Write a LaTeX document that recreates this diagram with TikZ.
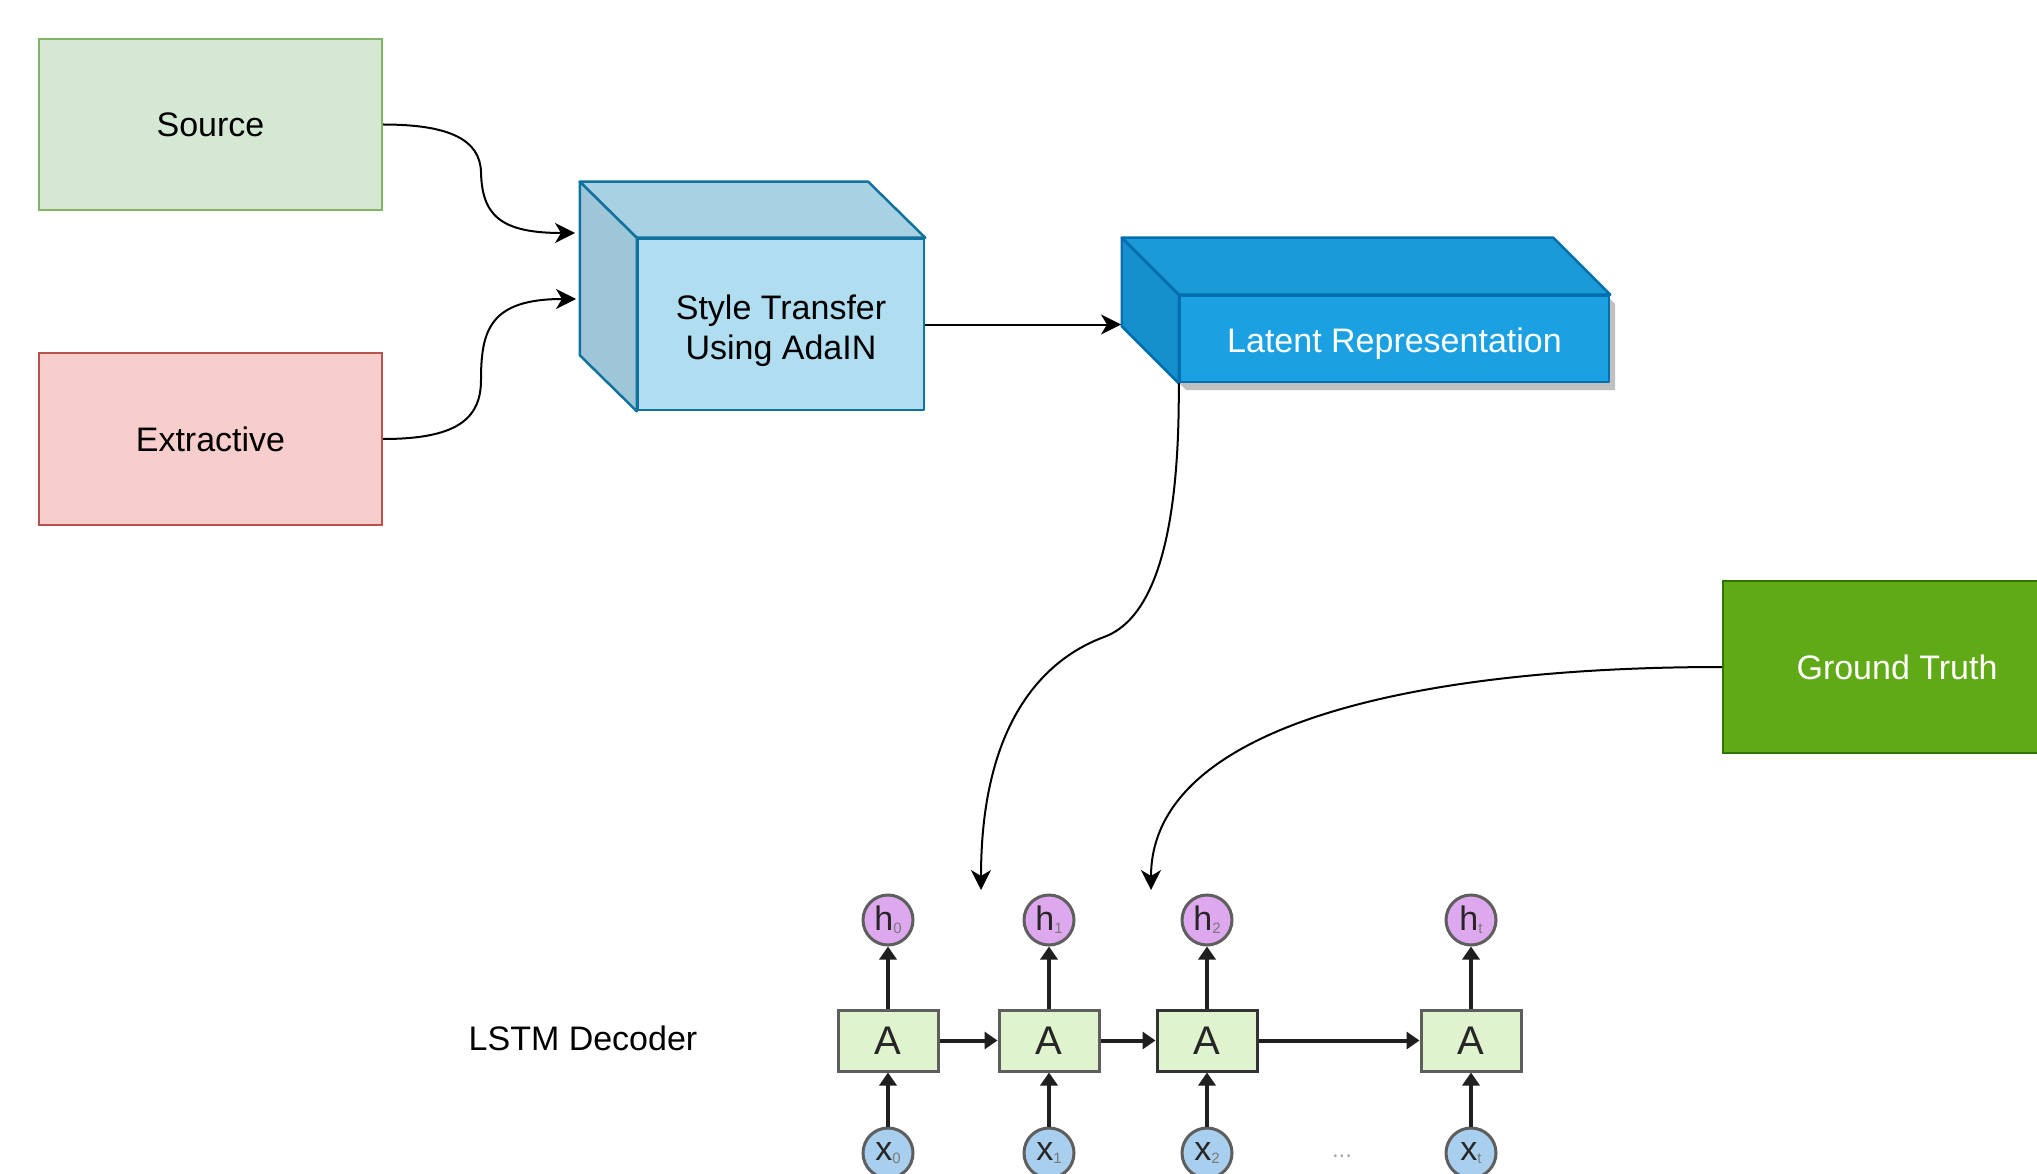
\documentclass[tikz,border=0pt]{standalone}
\usepackage{fontspec}
\setmainfont{Liberation Sans}
\usetikzlibrary{arrows.meta,calc}
\definecolor{srcfill}{HTML}{D5E8D4}\definecolor{srcline}{HTML}{82B366}
\definecolor{extfill}{HTML}{F8CECC}\definecolor{extline}{HTML}{B85450}
\definecolor{stfront}{HTML}{B1DDF0}\definecolor{sttop}{HTML}{A8D1E4}\definecolor{stside}{HTML}{9FC6D8}\definecolor{stline}{HTML}{10739E}
\definecolor{latfront}{HTML}{1BA1E2}\definecolor{lattop}{HTML}{1A9AD7}\definecolor{latside}{HTML}{1690CD}\definecolor{latline}{HTML}{006EAF}
\definecolor{gtfill}{HTML}{60A917}\definecolor{gtline}{HTML}{2D7600}
\definecolor{cellfill}{HTML}{DFF3CE}\definecolor{cellline}{HTML}{5E5E5E}
\definecolor{hfill}{HTML}{DDA8EE}\definecolor{xfill}{HTML}{A9CFEE}
\definecolor{subgray}{HTML}{7A7A7A}\definecolor{shadowgray}{HTML}{C0C0C0}
\newcommand\lsub[1]{\raisebox{-3pt}{\fontsize{15}{15}\selectfont\color{subgray}#1}}
\begin{document}
\begin{tikzpicture}[x=1pt,y=-1pt,
  txt/.style={font=\fontsize{34}{40}\selectfont, align=center},
  flatbox/.style={txt, rectangle, line width=2pt, inner sep=0pt},
  cubefront/.style={txt, rectangle, line width=2.5pt, inner sep=0pt, line join=round},
  cubeface/.style={line width=2.5pt, line join=round},
  conn/.style={line width=2pt, -{Stealth[length=20pt,width=20pt,inset=6pt]}},
  cell/.style={rectangle, fill=cellfill, draw=cellline, line width=3pt, minimum width=100pt, minimum height=61pt, inner sep=0pt, font=\fontsize{40}{40}\selectfont, text=black!85},
  hcirc/.style={circle, fill=hfill, draw=cellline, line width=3pt, minimum size=50pt, inner sep=0pt, font=\fontsize{34}{34}\selectfont, text=black!85},
  xcirc/.style={circle, fill=xfill, draw=cellline, line width=3pt, minimum size=50pt, inner sep=0pt, font=\fontsize{34}{34}\selectfont, text=black!85},
  larr/.style={line width=4pt, draw=black!88, -{Triangle[length=13pt,width=17pt]}}
]
\clip (0,0) rectangle (2037,1174);
\fill[white] (0,0) rectangle (2037,1174);

% input boxes
\node[flatbox, fill=srcfill, draw=srcline, minimum width=343pt, minimum height=171pt] (src) at (210.5,124.5) {Source};
\node[flatbox, fill=extfill, draw=extline, minimum width=343pt, minimum height=172pt] (ext) at (210.5,439) {Extractive};

% style transfer cube
\node[cubefront, fill=stfront, draw=stline, minimum width=286pt, minimum height=171pt] (st) at (781,324.5) {\rule{0pt}{37pt}Style Transfer\\Using AdaIN};
\filldraw[cubeface, fill=sttop, draw=stline] ($(st.north west)+(-57,-56)$) -- ($(st.north east)+(-57,-56)$) -- (st.north east) -- (st.north west) -- cycle;
\filldraw[cubeface, fill=stside, draw=stline] ($(st.north west)+(-57,-56)$) -- (st.north west) -- (st.south west) -- ($(st.south west)+(-57,-56)$) -- cycle;

% latent cube
\fill[shadowgray] (1129,247) -- (1558,247) -- (1615,304) -- (1615,390) -- (1186,390) -- (1129,333) -- cycle;
\node[cubefront, fill=latfront, draw=latline, text=white, minimum width=429pt, minimum height=86pt] (lat) at (1394.5,339) {\rule{0pt}{35pt}Latent Representation};
\filldraw[cubeface, fill=lattop, draw=latline] ($(lat.north west)+(-57,-57)$) -- ($(lat.north east)+(-57,-57)$) -- (lat.north east) -- (lat.north west) -- cycle;
\filldraw[cubeface, fill=latside, draw=latline] ($(lat.north west)+(-57,-57)$) -- (lat.north west) -- (lat.south west) -- ($(lat.south west)+(-57,-57)$) -- cycle;

% ground truth
\node[flatbox, fill=gtfill, draw=gtline, text=white, minimum width=348pt, minimum height=172pt] (gt) at (1897,667) {Ground Truth};

% connector end points
\coordinate (srcin) at (575,233);
\coordinate (extin) at (576,299);
\coordinate (latin) at (1121,324.5);
\coordinate (latout) at (981,890);
\coordinate (gtout) at (1151,890);

\draw[conn] (src.east) .. controls (450,124.5) and (480,140) .. (481,172) .. controls (482,215) and (500,233) .. (srcin);
\draw[conn] (ext.east) .. controls (455,439) and (481,420) .. (481,380) .. controls (481,330) and (490,299) .. (extin);
\draw[conn] (st.east) -- (latin);
\draw[conn] (lat.south west) .. controls (1180,560) and (1145,622) .. (1104,637) .. controls (1050,657) and (981,715) .. (latout);
\draw[conn] (gt.west) .. controls (1400,667) and (1151,730) .. (gtout);

% LSTM decoder
\node[font=\fontsize{34}{40}\selectfont] (lbl) at (583,1038) {LSTM Decoder};

\node[cell] (a0) at (888,1040.5) {A};
\node[cell] (a1) at (1049,1040.5) {A};
\node[cell, draw=black!80] (a2) at (1207,1040.5) {A};
\node[cell] (a3) at (1471,1040.5) {A};

\node[hcirc] (h0) at (888,920) {h\lsub{0}};
\node[hcirc] (h1) at (1049,920) {h\lsub{1}};
\node[hcirc] (h2) at (1207,920) {h\lsub{2}};
\node[hcirc] (h3) at (1471,920) {h\lsub{t}};

\node[xcirc] (x0) at (888,1153) {x\lsub{0}};
\node[xcirc] (x1) at (1049,1153) {x\lsub{1}};
\node[xcirc] (x2) at (1207,1153) {x\lsub{2}};
\node[xcirc] (x3) at (1471,1153) {x\lsub{t}};

\node[font=\fontsize{24}{24}\selectfont, text=black!35] (dots) at (1342,1156) {...};

\foreach \i in {0,1,2,3}{
  \draw[larr] (a\i) -- (h\i);
  \draw[larr] (x\i) -- (a\i);
}
\draw[larr] (a0) -- (a1);
\draw[larr] (a1) -- (a2);
\draw[larr] (a2) -- (a3);
\end{tikzpicture}
\end{document}
